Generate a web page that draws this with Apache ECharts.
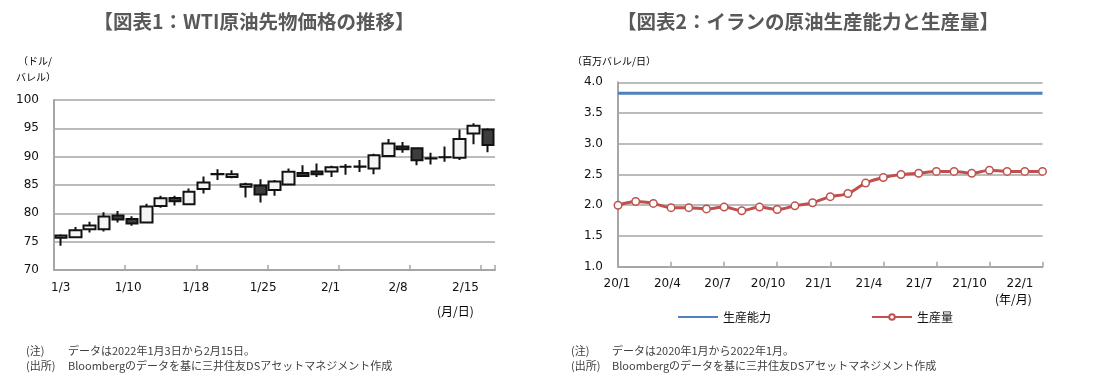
<!DOCTYPE html>
<html>
<head>
<meta charset="utf-8">
<script src="https://cdn.jsdelivr.net/npm/echarts@6/dist/echarts.min.js"></script>
<style>
html,body{margin:0;padding:0;background:#fff;}
#c{width:1099px;height:381px;}
</style>
</head>
<body>
<div id="c"></div>
<script>
// ---- Chart 1: WTI futures (daily OHLC) ----
const wtiDates = ['1/3','1/4','1/5','1/6','1/7','1/10','1/11','1/12','1/13','1/14','1/18','1/19','1/20','1/21','1/24','1/25','1/26','1/27','1/28','1/31','2/1','2/2','2/3','2/4','2/7','2/8','2/9','2/10','2/11','2/14','2/15'];
const wtiOpen  = [75.7, 75.8, 77.2, 77.2, 79.6, 79.0, 78.4, 81.3, 82.7, 81.6, 84.3, 86.9, 86.4, 84.7, 84.9, 84.1, 85.1, 87.1, 87.4, 87.4, 88.2, 88.2, 87.9, 90.1, 91.8, 91.5, 89.7, 89.9, 89.8, 94.1, 94.8];
const wtiClose = [76.1, 77.0, 77.85, 79.46, 78.9, 78.2, 81.2, 82.64, 82.12, 83.82, 85.43, 86.96, 86.9, 85.14, 83.31, 85.6, 87.35, 86.61, 86.9, 88.15, 88.2, 88.26, 90.27, 92.31, 91.32, 89.36, 89.66, 89.88, 93.1, 95.46, 92.07];
const wtiLow   = [74.3, 75.7, 76.6, 76.8, 78.4, 77.8, 78.3, 81.0, 81.4, 81.5, 83.5, 85.9, 86.2, 82.8, 81.9, 83.1, 85.0, 86.4, 86.4, 86.4, 86.8, 87.3, 86.9, 90.0, 90.7, 88.5, 88.6, 89.1, 89.4, 92.2, 90.8];
const wtiHigh  = [76.3, 77.6, 78.5, 80.2, 80.4, 79.5, 81.7, 83.1, 83.1, 84.4, 86.5, 87.8, 87.6, 85.4, 86.0, 85.9, 87.9, 88.5, 88.8, 88.4, 88.7, 89.4, 90.5, 93.1, 92.6, 91.6, 90.7, 91.8, 94.8, 95.9, 95.0];
const wtiTickLabels = ['1/3','1/10','1/18','1/25','2/1','2/8','2/15'];

// ---- Chart 2: Iran crude production capacity & output ----
const months = ['20/1','20/2','20/3','20/4','20/5','20/6','20/7','20/8','20/9','20/10','20/11','20/12','21/1','21/2','21/3','21/4','21/5','21/6','21/7','21/8','21/9','21/10','21/11','21/12','22/1'];
const capacity   = [3.82,3.82,3.82,3.82,3.82,3.82,3.82,3.82,3.82,3.82,3.82,3.82,3.82,3.82,3.82,3.82,3.82,3.82,3.82,3.82,3.82,3.82,3.82,3.82,3.82];
const production = [2.00,2.06,2.03,1.96,1.96,1.94,1.97,1.91,1.97,1.93,1.99,2.04,2.14,2.19,2.36,2.45,2.50,2.52,2.55,2.55,2.52,2.57,2.55,2.55,2.55];
const monthTickLabels = ['20/1','20/4','20/7','20/10','21/1','21/4','21/7','21/10','22/1'];
const seriesNames = ['生産能力','生産量'];

const candleData = wtiDates.map((d, i) => [wtiOpen[i], wtiClose[i], wtiLow[i], wtiHigh[i]]);

const NUM = 'DejaVu Sans, Verdana, sans-serif';
const JP = 'Noto Sans CJK JP, sans-serif';
const GRID = '#a6a6a6';

const chart = echarts.init(document.getElementById('c'), null, {renderer: 'canvas'});

function txt(x, y, text, opt) {
  return {
    type: 'text', x: x, y: y, silent: true,
    style: Object.assign({text: text, fill: '#000', font: '11px ' + JP, textVerticalAlign: 'middle'}, opt || {})
  };
}

const NOTE = {font: '11px ' + JP, fill: '#404040'};

const option = {
  animation: false,
  backgroundColor: '#fff',
  grid: [
    {left: 54, top: 100, width: 441, height: 170, outerBoundsMode: 'none', containLabel: false},
    {left: 60.7, top: 100, width: 404.8, height: 170, outerBoundsMode: 'none', containLabel: false},
    {left: 618, top: 82.3, width: 424.5, height: 184.4, outerBoundsMode: 'none', containLabel: false},
    {left: 617, top: 82.3, width: 403, height: 184.4, outerBoundsMode: 'none', containLabel: false}
  ],
  xAxis: [
    {gridIndex: 0, type: 'category', data: wtiDates, boundaryGap: true,
     axisLine: {lineStyle: {color: GRID, width: 2}},
     axisTick: {show: true, inside: true, length: 5, interval: 4, lineStyle: {color: GRID, width: 1.5}},
     axisLabel: {show: false}, splitLine: {show: false}},
    {gridIndex: 1, type: 'category', data: wtiTickLabels, boundaryGap: false,
     axisLine: {show: false}, axisTick: {show: false},
     axisLabel: {show: true, interval: 0, margin: 12, color: '#111', fontSize: 12, fontFamily: NUM},
     splitLine: {show: false}},
    {gridIndex: 2, type: 'category', data: months, boundaryGap: false,
     axisLine: {lineStyle: {color: GRID, width: 2}},
     axisTick: {show: true, inside: true, length: 5, interval: 2, lineStyle: {color: GRID, width: 1.5}},
     axisLabel: {show: false}, splitLine: {show: false}},
    {gridIndex: 3, type: 'category', data: monthTickLabels, boundaryGap: false,
     axisLine: {show: false}, axisTick: {show: false},
     axisLabel: {show: true, interval: 0, margin: 11, color: '#111', fontSize: 12, fontFamily: NUM},
     splitLine: {show: false}}
  ],
  yAxis: [
    {gridIndex: 0, type: 'value', min: 70, max: 100, interval: 5,
     axisLine: {show: true, lineStyle: {color: GRID, width: 2}}, axisTick: {show: false},
     axisLabel: {margin: 15, color: '#111', fontSize: 12, fontFamily: NUM},
     splitLine: {show: true, lineStyle: {color: GRID, width: 1.5}}},
    {gridIndex: 1, type: 'value', show: false, min: 0, max: 1},
    {gridIndex: 2, type: 'value', min: 1.0, max: 4.0, interval: 0.5,
     axisLine: {show: true, lineStyle: {color: GRID, width: 2}}, axisTick: {show: false},
     axisLabel: {margin: 15, color: '#111', fontSize: 12, fontFamily: NUM, formatter: v => v.toFixed(1)},
     splitLine: {show: true, lineStyle: {color: GRID, width: 1.5}}},
    {gridIndex: 3, type: 'value', show: false, min: 0, max: 1}
  ],
  legend: {
    data: [
      {name: seriesNames[0], itemStyle: {opacity: 0, color: 'rgba(0,0,0,0)', borderColor: 'rgba(0,0,0,0)'}},
      {name: seriesNames[1]}
    ],
    left: 672, top: 306,
    itemWidth: 40, itemHeight: 7, itemGap: 100,
    textStyle: {fontSize: 12, fontFamily: JP, color: '#111'}
  },
  series: [
    {type: 'candlestick', xAxisIndex: 0, yAxisIndex: 0, data: candleData, barWidth: 12,
     itemStyle: {color: '#f4f4f4', color0: '#3d3d3d', borderColor: '#111', borderColor0: '#111', borderWidth: 2}},
    {name: seriesNames[0], type: 'line', xAxisIndex: 2, yAxisIndex: 2, data: capacity,
     symbol: 'none', lineStyle: {color: '#4f81bd', width: 3}, itemStyle: {color: '#4f81bd'}},
    {name: seriesNames[1], type: 'line', xAxisIndex: 2, yAxisIndex: 2, data: production,
     smooth: 0.3, symbol: 'circle', symbolSize: 7.5,
     lineStyle: {color: '#c0504d', width: 3},
     itemStyle: {color: '#fff', borderColor: '#c0504d', borderWidth: 1.5}}
  ],
  graphic: [
    txt(254, 22, '【図表1：WTI原油先物価格の推移】', {font: 'bold 19.5px ' + JP, fill: '#595959', textAlign: 'center'}),
    txt(808, 22, '【図表2：イランの原油生産能力と生産量】', {font: 'bold 19.5px ' + JP, fill: '#595959', textAlign: 'center'}),
    txt(18, 61, '（ドル/', {font: '10px ' + JP}),
    txt(16, 77, 'バレル）', {font: '10px ' + JP}),
    txt(572, 61, '（百万バレル/日）', {font: '10px ' + JP}),
    txt(437, 311, '(月/日)', {font: '12px ' + JP}),
    txt(995, 299, '(年/月)', {font: '12px ' + JP}),
    txt(26, 351, '(注)', NOTE),
    txt(68, 351, 'データは2022年1月3日から2月15日。', NOTE),
    txt(26, 366, '(出所)', NOTE),
    txt(68, 366, 'Bloombergのデータを基に三井住友DSアセットマネジメント作成', NOTE),
    txt(571, 351, '(注)', NOTE),
    txt(612, 351, 'データは2020年1月から2022年1月。', NOTE),
    txt(571, 366, '(出所)', NOTE),
    txt(612, 366, 'Bloombergのデータを基に三井住友DSアセットマネジメント作成', NOTE)
  ]
};
chart.setOption(option);
</script>
</body>
</html>
